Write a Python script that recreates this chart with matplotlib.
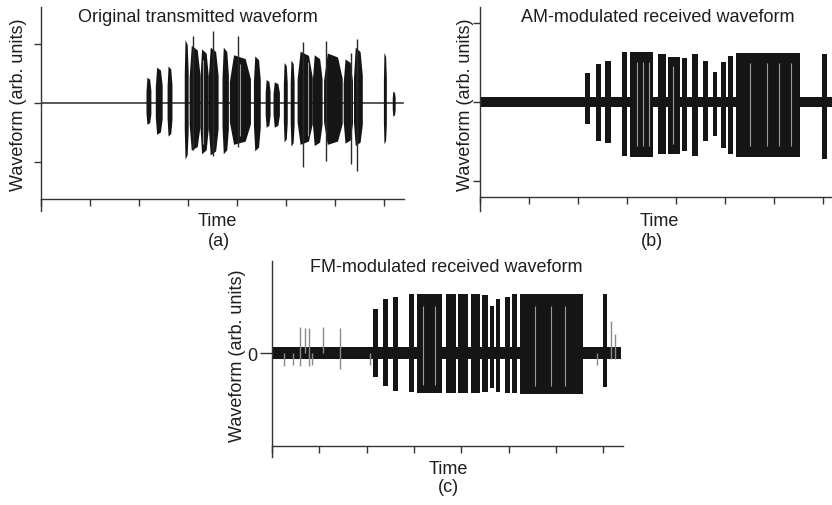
import matplotlib
matplotlib.use("Agg")
import matplotlib.pyplot as plt

plt.rcParams['font.family'] = ['Liberation Sans', 'DejaVu Sans']
plt.rcParams['font.size'] = 13

INK = '#151515'
TXT = '#1e1e1e'

# (a) original waveform: bursts as start/end time with upper and lower amplitude
a_start = [2.14, 2.33, 2.57, 2.92, 3.02, 3.24, 3.41, 3.69, 3.84, 4.33, 4.57, 4.73,
           4.94, 5.08, 5.22, 5.53, 5.76, 6.16, 6.37, 6.98, 7.16]
a_end = [2.24, 2.47, 2.67, 3.00, 3.24, 3.41, 3.61, 3.82, 4.27, 4.47, 4.67, 4.86,
         5.02, 5.16, 5.53, 5.73, 6.14, 6.35, 6.55, 7.04, 7.22]
a_hi = [0.44, 0.61, 0.63, 1.08, 0.98, 0.92, 0.95, 0.95, 0.82, 0.80, 0.40, 0.36,
        0.69, 0.73, 0.88, 0.82, 0.85, 0.75, 0.95, 0.86, 0.20]
a_lo = [0.36, 0.53, 0.56, 0.95, 0.80, 0.86, 0.88, 0.86, 0.70, 0.81, 0.41, 0.41,
        0.66, 0.73, 0.70, 0.72, 0.70, 0.68, 0.72, 0.69, 0.22]
a_spike_t = [3.10, 3.51, 4.02, 5.35, 5.80, 6.31, 6.45]
a_spike_hi = [1.13, 1.22, 1.13, 1.03, 1.05, 0.85, 1.08]
a_spike_lo = [0.80, 0.90, 0.75, 1.08, 0.98, 1.03, 1.15]
a_gap_t = [3.30, 3.62, 4.05, 4.50, 5.45, 5.74, 6.15, 6.36]

# (b) AM received waveform
b_start = [2.14, 2.37, 2.55, 2.90, 3.06, 3.63, 3.84, 4.12, 4.33, 4.55, 4.76, 4.92,
           5.06, 5.22, 6.98]
b_end = [2.24, 2.47, 2.67, 3.00, 3.53, 3.80, 4.08, 4.22, 4.45, 4.65, 4.84, 5.02,
         5.16, 6.53, 7.08]
b_hi = [0.37, 0.48, 0.52, 0.63, 0.63, 0.61, 0.57, 0.55, 0.61, 0.52, 0.38, 0.50,
        0.58, 0.62, 0.60]
b_lo = [0.28, 0.50, 0.52, 0.68, 0.70, 0.66, 0.66, 0.62, 0.68, 0.50, 0.43, 0.58,
        0.66, 0.70, 0.72]
b_noise = 0.06
b_gap_t = [3.20, 3.33, 3.45, 3.93, 5.50, 5.85, 6.10, 6.35]

# (c) FM received waveform
c_start = [2.14, 2.35, 2.56, 2.90, 3.07, 3.68, 3.93, 4.21, 4.44, 4.61, 4.74, 4.93,
           5.07, 5.24, 7.00]
c_end = [2.24, 2.45, 2.66, 3.00, 3.59, 3.89, 4.14, 4.40, 4.57, 4.69, 4.82, 5.03,
         5.18, 6.58, 7.08]
c_hi = [0.75, 0.92, 0.95, 1.00, 1.00, 1.00, 1.00, 1.00, 0.98, 0.80, 0.92, 0.95,
        1.00, 1.00, 1.00]
c_lo = [0.40, 0.56, 0.64, 0.66, 0.68, 0.68, 0.68, 0.68, 0.66, 0.60, 0.66, 0.68,
        0.68, 0.70, 0.58]
c_spike_t = [0.25, 0.44, 0.59, 0.70, 0.78, 0.85, 1.08, 1.44, 2.07, 6.87, 7.17, 7.25]
c_spike_hi = [0.0, 0.0, 0.44, 0.42, 0.42, 0.0, 0.44, 0.42, 0.0, 0.0, 0.55, 0.33]
c_spike_lo = [0.22, 0.20, 0.22, 0.0, 0.22, 0.20, 0.0, 0.27, 0.20, 0.20, 0.10, 0.10]
c_noise = 0.10
c_gap_t = [3.20, 3.45, 5.55, 5.90, 6.20]

time_ticks = [0, 1, 2, 3, 4, 5, 6, 7]

fig = plt.figure(figsize=(8.32, 5.06), dpi=100)
fig.patch.set_facecolor('white')


def setup_axes(rect, xmax, ylim, axis_y, yticks):
    ax = fig.add_axes(rect)
    ax.set_xlim(0, xmax)
    ax.set_ylim(*ylim)
    for s in ['top', 'right']:
        ax.spines[s].set_visible(False)
    ax.spines['bottom'].set_position(('data', axis_y))
    for s in ['left', 'bottom']:
        ax.spines[s].set_color('#333333')
        ax.spines[s].set_linewidth(1.0)
    ax.set_xticks(time_ticks)
    ax.set_xticklabels([])
    ax.set_yticks(yticks)
    ax.set_yticklabels([])
    ax.tick_params(direction='out', length=5, width=1, color='#333333')
    ax.patch.set_alpha(0)
    return ax


def draw_bursts(ax, start, end, hi, lo, taper=False):
    if not taper:
        widths = [e - s for s, e in zip(start, end)]
        heights = [h + l for h, l in zip(hi, lo)]
        bottoms = [-l for l in lo]
        ax.bar(start, heights, width=widths, bottom=bottoms, align='edge',
               color=INK, linewidth=0, zorder=3)
        return
    # speech-like bursts: quick attack, softer release
    for s, e, h, l in zip(start, end, hi, lo):
        w = e - s
        xs = [s, s + 0.2 * w, e - 0.25 * w, e]
        shape = [0.45, 1.0, 0.92, 0.5]
        ax.fill_between(xs, [-l * k for k in shape], [h * k for k in shape],
                        color=INK, linewidth=0, zorder=3)


def draw_gaps(ax, gaps, start, end, hi, lo):
    # thin light streaks inside the dense blocks
    for g in gaps:
        for s, e, h, l in zip(start, end, hi, lo):
            if s < g < e:
                ax.vlines(g, -l * 0.8, h * 0.8, color='#9a9a9a', lw=0.8, zorder=4)


# ---- (a)
ax_a = setup_axes([41 / 832, 1 - 212 / 506, 363 / 832, 204 / 506], 7.4,
                  (-1.83, 1.63), -1.627, [-1, 0, 1])
ax_a.plot([0, 7.37], [0, 0], color='#3a3a3a', lw=1.2, zorder=2)
draw_bursts(ax_a, a_start, a_end, a_hi, a_lo, taper=True)
ax_a.vlines(a_spike_t, [-l for l in a_spike_lo], a_spike_hi, color='#2a2a2a', lw=1.0, zorder=3)
draw_gaps(ax_a, a_gap_t, a_start, a_end, a_hi, a_lo)

# ---- (b)
ax_b = setup_axes([480 / 832, 1 - 212 / 506, 352 / 832, 204 / 506], 7.18,
                  (-1.38, 1.2), -1.2, [-1, 0, 1])
ax_b.fill_between([0, 7.18], -b_noise, b_noise, color=INK, linewidth=0, zorder=2)
draw_bursts(ax_b, b_start, b_end, b_hi, b_lo)
draw_gaps(ax_b, b_gap_t, b_start, b_end, b_hi, b_lo)

# ---- (c)
ax_c = setup_axes([272 / 832, 1 - 458 / 506, 351 / 832, 196 / 506], 7.42,
                  (-1.763, 1.56), -1.576, [0])
ax_c.set_yticklabels(['0'], fontsize=13, color=TXT)
ax_c.tick_params(axis='y', length=8.5, pad=2)
ax_c.fill_between([0, 7.38], -c_noise, c_noise, color=INK, linewidth=0, zorder=2)
draw_bursts(ax_c, c_start, c_end, c_hi, c_lo)
ax_c.vlines(c_spike_t, [-l for l in c_spike_lo], c_spike_hi, color='#8a8a8a', lw=1.0, zorder=3)
draw_gaps(ax_c, c_gap_t, c_start, c_end, c_hi, c_lo)

# labels
def ftext(x, y, s, **kw):
    fig.text(x / 832, 1 - y / 506, s, ha='center', va='center', color=TXT, fontsize=13, **kw)

ftext(198, 17, 'Original transmitted waveform')
ftext(658, 17, 'AM-modulated received waveform')
ftext(446, 268, 'FM-modulated received waveform')
ftext(217, 222, 'Time')
ftext(219, 242, '(a)')
ftext(659, 222, 'Time')
ftext(652, 242, '(b)')
ftext(448, 470, 'Time')
ftext(448, 488, '(c)')
ftext(19, 105, 'Waveform (arb. units)', rotation=90)
ftext(466, 105, 'Waveform (arb. units)', rotation=90)
ftext(237, 356, 'Waveform (arb. units)', rotation=90)

fig.savefig('out.png', dpi=100, facecolor='white')
